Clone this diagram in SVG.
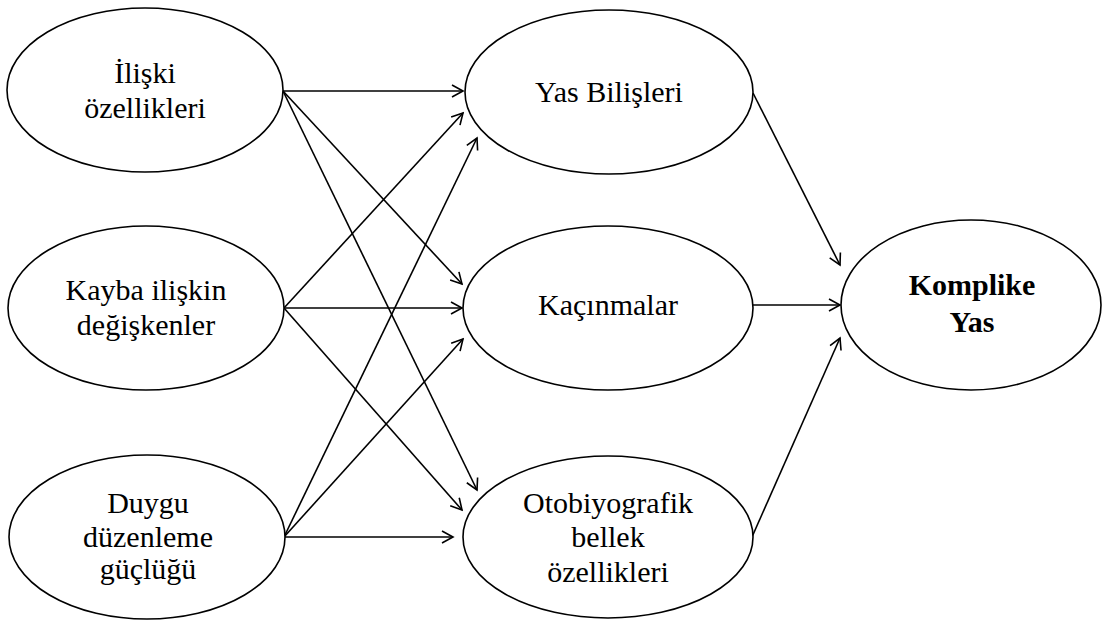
<svg xmlns="http://www.w3.org/2000/svg" width="1102" height="628" viewBox="0 0 1102 628">
<style>
.n ellipse{fill:#fff;stroke:#000;stroke-width:1.6}
.n text{font-family:"Liberation Serif","Times New Roman",Times,serif;font-size:30px;text-anchor:middle;fill:#000}
.n text.b{font-weight:bold}
.c line{stroke:#000;stroke-width:1.6;marker-end:url(#ah)}
</style>
<defs>
<marker id="ah" markerUnits="userSpaceOnUse" markerWidth="14" markerHeight="14" viewBox="0 0 14 14" refX="12" refY="7" orient="auto">
<path d="M1,1 L12,7 L1,13" fill="none" stroke="#000" stroke-width="1.6"/>
</marker>
</defs>
<rect width="1102" height="628" fill="#fff"/>
<g class="c" id="connectors">
<line x1="283" y1="91" x2="463" y2="91"/>
<line x1="283" y1="91" x2="462" y2="284"/>
<line x1="283" y1="91" x2="477" y2="490"/>
<line x1="284" y1="308" x2="463" y2="113"/>
<line x1="284" y1="308" x2="462" y2="308"/>
<line x1="284" y1="308" x2="462" y2="510"/>
<line x1="284" y1="537" x2="477" y2="138"/>
<line x1="284" y1="537" x2="463" y2="339"/>
<line x1="284" y1="537" x2="453" y2="537"/>
<line x1="753" y1="93" x2="840" y2="265"/>
<line x1="752" y1="305" x2="840" y2="305"/>
<line x1="752" y1="537" x2="840" y2="338"/>
</g>
<g class="n" id="iliski">
<ellipse cx="145" cy="90" rx="138" ry="82"/>
<text x="145" y="83">İlişki</text>
<text x="145" y="118">özellikleri</text>
</g>
<g class="n" id="kayba">
<ellipse cx="146" cy="308" rx="138" ry="82"/>
<text x="146" y="300">Kayba ilişkin</text>
<text x="146" y="335">değişkenler</text>
</g>
<g class="n" id="duygu">
<ellipse cx="147" cy="537" rx="138" ry="82"/>
<text x="148" y="513">Duygu</text>
<text x="148" y="547">düzenleme</text>
<text x="148" y="579">güçlüğü</text>
</g>
<g class="n" id="yas">
<ellipse cx="609" cy="92" rx="144" ry="82"/>
<text x="609" y="102">Yas Bilişleri</text>
</g>
<g class="n" id="kacinmalar">
<ellipse cx="608" cy="308" rx="145" ry="82"/>
<text x="608" y="315">Kaçınmalar</text>
</g>
<g class="n" id="otobiyografik">
<ellipse cx="608" cy="537" rx="145" ry="81"/>
<text x="608" y="513">Otobiyografik</text>
<text x="608" y="547">bellek</text>
<text x="608" y="582">özellikleri</text>
</g>
<g class="n" id="komplike">
<ellipse cx="971" cy="305" rx="130" ry="85"/>
<text class="b" x="972" y="295">Komplike</text>
<text class="b" x="972" y="332">Yas</text>
</g>
</svg>
